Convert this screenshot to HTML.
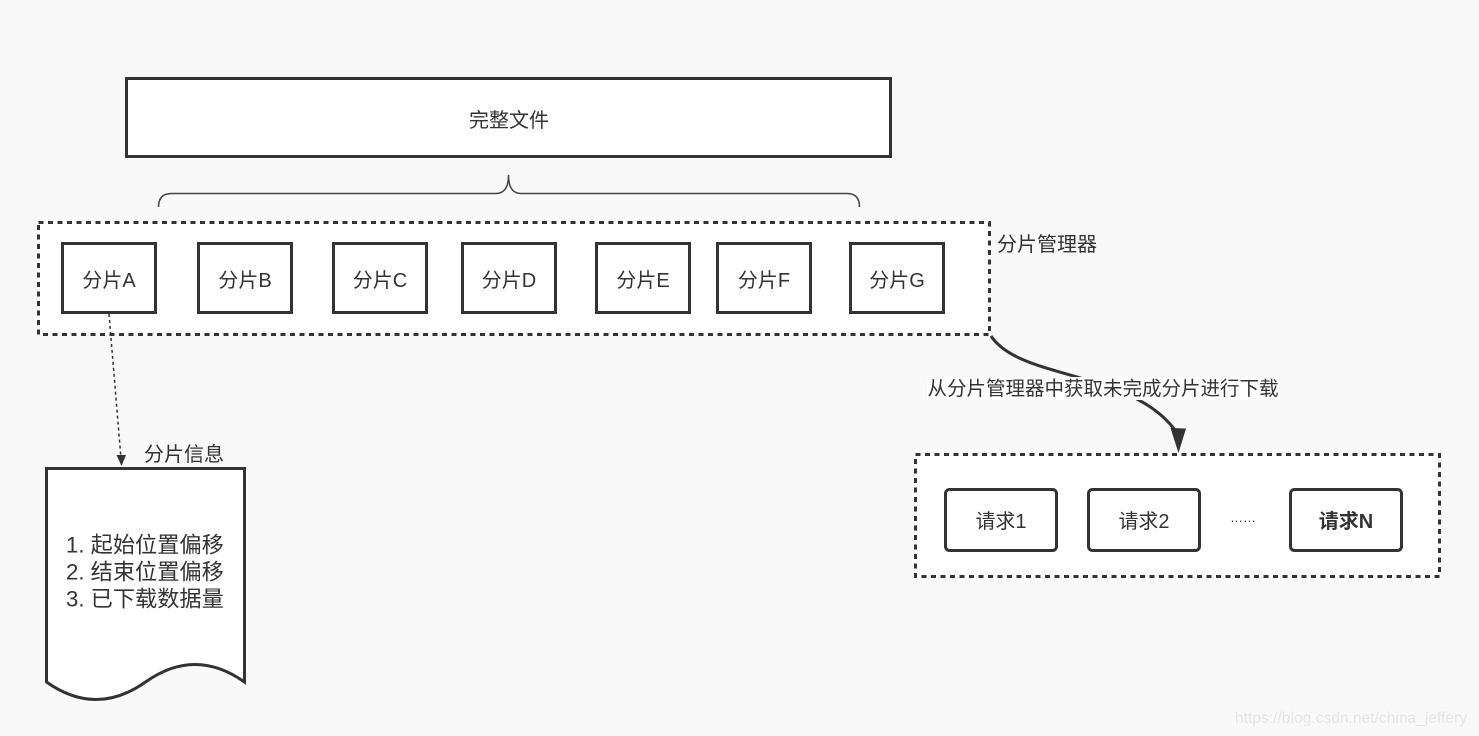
<!DOCTYPE html>
<html>
<head>
<meta charset="utf-8">
<style>
  html, body { margin:0; padding:0; background:#f9f9f9; }
  body { width:1479px; height:736px; overflow:hidden; }
  svg { display:block; }
  .t { font-family:"Liberation Sans","Noto Sans CJK SC",sans-serif; fill:#333; }
</style>
</head>
<body>
<svg width="1479" height="736" viewBox="0 0 1479 736" xmlns="http://www.w3.org/2000/svg">
  <rect x="0" y="0" width="1479" height="736" fill="#f9f9f9"/>

  <!-- 完整文件 -->
  <rect x="126.5" y="78.5" width="764" height="78" fill="#fff" stroke="#333" stroke-width="3"/>
  <text class="t" x="509" y="121" font-size="20" text-anchor="middle" dominant-baseline="central">完整文件</text>

  <!-- brace -->
  <path d="M158.5,207 Q158.5,193.5 171.5,193.5 L496,193.5 Q508.5,193.5 508.5,175 Q508.5,193.5 521,193.5 L847,193.5 Q859.5,193.5 859.5,207" fill="none" stroke="#444" stroke-width="1.5"/>

  <!-- 分片管理器 container -->
  <rect x="38.5" y="222.5" width="951" height="112" fill="#fff" stroke="#333" stroke-width="3" stroke-dasharray="5 4.5"/>
  <text class="t" x="997" y="245" font-size="20" dominant-baseline="central">分片管理器</text>

  <!-- chunks -->
  <g fill="#fff" stroke="#333" stroke-width="3">
    <rect x="62.5" y="243.5" width="93" height="69"/>
    <rect x="198.5" y="243.5" width="93" height="69"/>
    <rect x="333.5" y="243.5" width="93" height="69"/>
    <rect x="462.5" y="243.5" width="93" height="69"/>
    <rect x="596.5" y="243.5" width="93" height="69"/>
    <rect x="717.5" y="243.5" width="93" height="69"/>
    <rect x="850.5" y="243.5" width="93" height="69"/>
  </g>
  <g font-size="20" text-anchor="middle">
    <text class="t" x="109" y="281" dominant-baseline="central">分片A</text>
    <text class="t" x="245" y="281" dominant-baseline="central">分片B</text>
    <text class="t" x="380" y="281" dominant-baseline="central">分片C</text>
    <text class="t" x="509" y="281" dominant-baseline="central">分片D</text>
    <text class="t" x="643" y="281" dominant-baseline="central">分片E</text>
    <text class="t" x="764" y="281" dominant-baseline="central">分片F</text>
    <text class="t" x="897" y="281" dominant-baseline="central">分片G</text>
  </g>

  <!-- dashed arrow A -> 分片信息 -->
  <path d="M109,314 L120.8,456" fill="none" stroke="#333" stroke-width="1.5" stroke-dasharray="3 3"/>
  <polygon points="116.5,455 126,455 121.5,466" fill="#333"/>
  <text class="t" x="144" y="455" font-size="20" dominant-baseline="central">分片信息</text>

  <!-- document shape -->
  <path d="M46.5,468.5 L244.5,468.5 L244.5,682 Q195,647 145.5,682 Q96,717 46.5,682 Z" fill="#fff" stroke="#333" stroke-width="3" stroke-linejoin="miter"/>
  <text class="t" x="66" y="545" font-size="22.2" dominant-baseline="central">1. 起始位置偏移</text>
  <text class="t" x="66" y="572" font-size="22.2" dominant-baseline="central">2. 结束位置偏移</text>
  <text class="t" x="66" y="599" font-size="22.2" dominant-baseline="central">3. 已下载数据量</text>

  <!-- curved arrow -->
  <path d="M991,336 C1020,380 1130,370 1175,430" fill="none" stroke="#333" stroke-width="3"/>
  <polygon points="1170.5,428 1186,428.5 1178.5,453" fill="#333"/>
  <rect x="927" y="377" width="353" height="23" fill="#fff"/>
  <text class="t" x="1103" y="389" font-size="19.5" text-anchor="middle" dominant-baseline="central">从分片管理器中获取未完成分片进行下载</text>

  <!-- request container -->
  <rect x="915.5" y="454.5" width="524" height="122" fill="#fff" stroke="#333" stroke-width="3" stroke-dasharray="5 4.5"/>
  <g fill="#fff" stroke="#333" stroke-width="3">
    <rect x="945.5" y="489.5" width="111" height="61" rx="4" ry="4"/>
    <rect x="1088.5" y="489.5" width="111" height="61" rx="4" ry="4"/>
    <rect x="1290.5" y="489.5" width="111" height="61" rx="4" ry="4"/>
  </g>
  <text class="t" x="1001" y="522" font-size="20" text-anchor="middle" dominant-baseline="central">请求1</text>
  <text class="t" x="1144" y="522" font-size="20" text-anchor="middle" dominant-baseline="central">请求2</text>
  <text class="t" x="1346" y="522" font-size="20" font-weight="bold" text-anchor="middle" dominant-baseline="central">请求N</text>
  <text class="t" x="1243" y="522" font-size="13" text-anchor="middle" font-family="Liberation Sans, sans-serif">……</text>

  <!-- watermark -->
  <text x="1235" y="723" font-size="15.6" font-family="Liberation Sans, sans-serif" fill="#e4e4e4">https://blog.csdn.net/china_jeffery</text>
</svg>
</body>
</html>
